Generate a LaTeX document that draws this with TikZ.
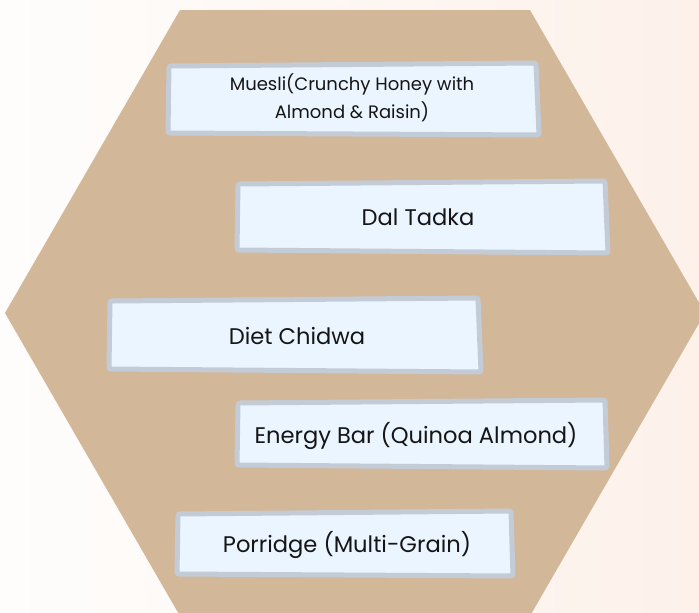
\documentclass[tikz,border=0pt]{standalone}
\usepackage{fontspec}
\setmainfont{Poppins}
\definecolor{bgL}{HTML}{FEFDFC}
\definecolor{bgR}{HTML}{FDF1EA}
\definecolor{hexc}{HTML}{D3B799}
\definecolor{boxfill}{HTML}{EBF5FF}
\definecolor{boxline}{HTML}{C3CCD6}
\definecolor{txt}{HTML}{151515}
\tikzset{
  card/.style={fill=boxfill, draw=boxline, line width=5pt, rounded corners=2pt, line join=round},
  lbl/.style={text=txt, font=\fontsize{22.6}{27}\selectfont, inner sep=0pt, align=center},
  lbls/.style={text=txt, font=\fontsize{18}{28}\selectfont, inner sep=0pt, align=center}
}
\begin{document}
\begin{tikzpicture}[x=1pt,y=-1pt]
\useasboundingbox (0,0) rectangle (699,613);
\shade[left color=bgL, right color=bgR] (0,0) rectangle (699,613);
\fill[hexc] (180,10) -- (530,10) -- (705,313) -- (530,616) -- (180,616) -- (5,313) -- cycle;
% cards
\draw[card] (169,66) -- (536,63) -- (539,135) -- (168,133) -- cycle;
\draw[card] (238,184) -- (605,181) -- (608,253) -- (237,250) -- cycle;
\draw[card] (110,301) -- (478,298) -- (481,372) -- (109,369) -- cycle;
\draw[card] (238,403) -- (605,400) -- (607,468) -- (237,465) -- cycle;
\draw[card] (178,514) -- (511,511) -- (513,576) -- (177,574) -- cycle;
% labels
\node[lbls] (muesli) at (352,98) {Muesli(Crunchy Honey with\\Almond \& Raisin)};
\node[lbl] (dal) at (418,217) {Dal Tadka};
\node[lbl] (chidwa) at (297,336) {Diet Chidwa};
\node[lbl] (energy) at (416,436) {Energy Bar (Quinoa Almond)};
\node[lbl] (porridge) at (347,545) {Porridge (Multi-Grain)};
\end{tikzpicture}
\end{document}
